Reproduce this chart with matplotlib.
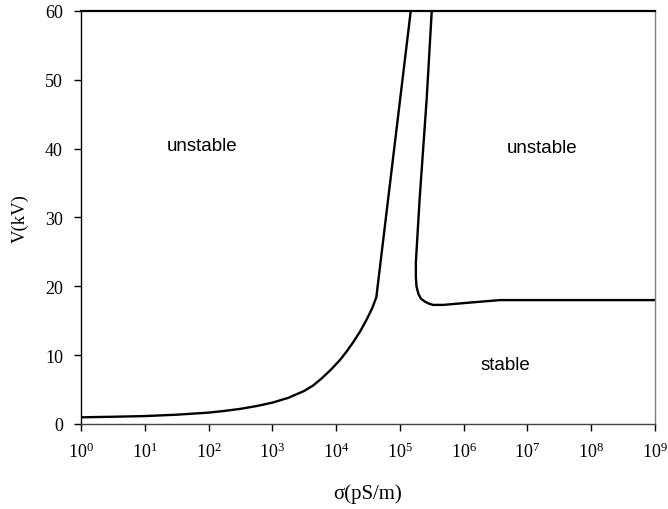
import numpy as np
import matplotlib
matplotlib.use("Agg")
import matplotlib.pyplot as plt

# boundary curves (sigma in pS/m, V in kV)
left_sigma = [1.0, 3.16, 10, 31.6, 100, 178, 316, 562, 1000, 1780, 3160, 4370,
              5900, 8300, 11500, 14800, 18600, 24000, 30200, 36300, 42700, 148000]
left_v = [0.97, 1.05, 1.15, 1.35, 1.65, 1.9, 2.2, 2.6, 3.1, 3.8, 4.8, 5.6,
          6.6, 7.9, 9.3, 10.6, 11.9, 13.5, 15.2, 16.7, 18.4, 60]

right_sigma = [316000, 263000, 204000, 178000, 178000, 182000, 195000, 214000,
               245000, 282000, 331000, 479000, 1.12e6, 3.72e6, 2.24e7, 1e9]
right_v = [60, 47.2, 32.7, 23.5, 21.5, 20.0, 18.9, 18.2,
           17.8, 17.5, 17.3, 17.3, 17.6, 18.0, 18.0, 18.0]

xticks = [10.0 ** k for k in range(10)]
xlabels = [r"$\mathregular{10^{%d}}$" % k for k in range(10)]
yticks = [0, 10, 20, 30, 40, 50, 60]

regions = [("unstable", 80, 40.5), ("unstable", 1.7e7, 40.2), ("stable", 4.5e6, 8.7)]

serif = "Liberation Serif"
sans = "Liberation Sans"

fig = plt.figure(figsize=(6.68, 5.10), dpi=100)
ax = fig.add_axes([0.1213, 0.1667, 0.8592, 0.8098])

ax.plot(left_sigma, left_v, color="black", lw=1.7)
ax.plot(right_sigma, right_v, color="black", lw=1.7)

ax.set_xscale("log")
ax.set_xlim(1, 1e9)
ax.set_ylim(0, 60)
ax.set_xticks(xticks)
ax.set_xticklabels(xlabels, family=serif, fontsize=13)
ax.minorticks_off()
ax.set_yticks(yticks)
ax.set_yticklabels([str(v) for v in yticks], family=serif, fontsize=13)
ax.tick_params(direction="out", length=5, width=1, color="black", pad=8)

ax.set_xlabel(r"σ(pS/m)", family=serif, fontsize=15, labelpad=16)
ax.set_ylabel("V(kV)", family=serif, fontsize=13.5, labelpad=12)

for txt, x, y in regions:
    ax.text(x, y, txt, family=sans, fontsize=13.5, ha="center", va="center")

ax.spines["top"].set_linewidth(1.6)
ax.spines["right"].set_color("gray")
ax.spines["right"].set_linewidth(1.0)
ax.spines["left"].set_linewidth(1.0)
ax.spines["bottom"].set_linewidth(1.0)
ax.spines["bottom"].set_color("#444444")

fig.savefig("out.png", dpi=100)
